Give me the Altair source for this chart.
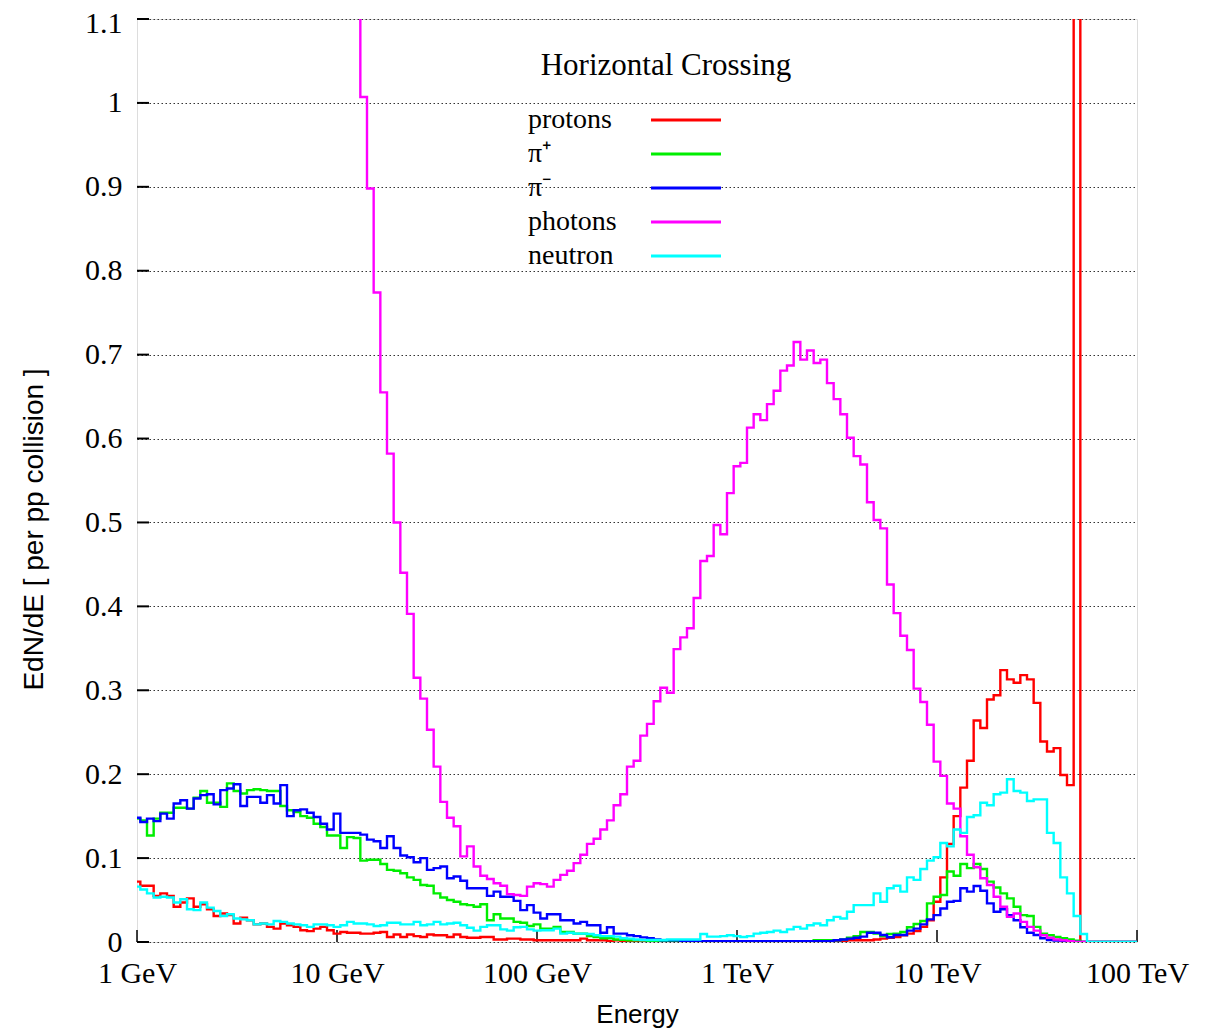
import json
import altair as alt
import pandas as pd

# ---------------- data ----------------
BINS_PER_DECADE = 30          # bin centres: E = 10**(k/30) GeV, k = 0..150
species = ["protons", "π⁺", "π⁻", "photons", "neutron"]
colors = ["#ff0000", "#00ee00", "#0000ff", "#ff00ff", "#00ffff"]
chart_title = "Horizontal Crossing"

protons = [
    0.072, 0.067, 0.067, 0.055, 0.058, 0.055, 0.042, 0.047, 0.052, 0.042,
    0.045, 0.039, 0.031, 0.034, 0.032, 0.022, 0.029, 0.026, 0.021, 0.022,
    0.018, 0.016, 0.022, 0.020, 0.018, 0.014, 0.013, 0.016, 0.018, 0.014,
    0.010, 0.012, 0.011, 0.011, 0.010, 0.010, 0.011, 0.012, 0.006, 0.009,
    0.006, 0.009, 0.007, 0.006, 0.009, 0.008, 0.008, 0.006, 0.009, 0.006,
    0.005, 0.005, 0.006, 0.006, 0.003, 0.003, 0.004, 0.004, 0.003, 0.003,
    0.002, 0.002, 0.002, 0.002, 0.002, 0.002, 0.002, 0.004, 0.002, 0.002,
    0.002, 0.001, 0.002, 0.001, 0.001, 0.001, 0.001, 0.001, 0.001, 0.001,
    0.001, 0.001, 0.001, 0.001, 0.001, 0.001, 0.001, 0.001, 0.001, 0.001,
    0.001, 0.001, 0.001, 0.001, 0.001, 0.001, 0.001, 0.001, 0.001, 0.001,
    0.001, 0.001, 0.001, 0.001, 0.001, 0.001, 0.001, 0.002, 0.002, 0.002,
    0.002, 0.003, 0.004, 0.005, 0.006, 0.008, 0.010, 0.013, 0.018, 0.026,
    0.048, 0.077, 0.117, 0.150, 0.184, 0.216, 0.264, 0.255, 0.289, 0.294,
    0.324, 0.313, 0.309, 0.318, 0.313, 0.285, 0.239, 0.227, 0.231, 0.199,
    0.187, 4.500, 0.0, 0.0, 0.0, 0.0, 0.0, 0.0, 0.0, 0.0,
    0.0,
]

pi_plus = [
    0.147, 0.145, 0.127, 0.147, 0.154, 0.154, 0.160, 0.160, 0.159, 0.172,
    0.180, 0.166, 0.166, 0.161, 0.189, 0.180, 0.177, 0.181, 0.182, 0.181,
    0.180, 0.180, 0.162, 0.157, 0.155, 0.150, 0.148, 0.141, 0.137, 0.127,
    0.127, 0.112, 0.125, 0.124, 0.097, 0.098, 0.098, 0.093, 0.086, 0.085,
    0.082, 0.077, 0.074, 0.068, 0.067, 0.058, 0.053, 0.050, 0.048, 0.045,
    0.044, 0.042, 0.045, 0.026, 0.033, 0.028, 0.028, 0.024, 0.023, 0.019,
    0.021, 0.016, 0.016, 0.018, 0.012, 0.012, 0.010, 0.010, 0.007, 0.006,
    0.0045, 0.0045, 0.003, 0.0025, 0.002, 0.002, 0.002, 0.001, 0.001, 0.001,
    0.001, 0.001, 0.001, 0.001, 0.001, 0.001, 0.001, 0.001, 0.001, 0.001,
    0.001, 0.001, 0.001, 0.001, 0.001, 0.001, 0.001, 0.001, 0.001, 0.001,
    0.001, 0.001, 0.002, 0.002, 0.002, 0.002, 0.003, 0.005, 0.007, 0.012,
    0.012, 0.010, 0.007, 0.0095, 0.010, 0.012, 0.0175, 0.0215, 0.025, 0.046,
    0.054, 0.056, 0.084, 0.079, 0.093, 0.088, 0.093, 0.087, 0.072, 0.065,
    0.058, 0.052, 0.042, 0.032, 0.031, 0.018, 0.010, 0.008, 0.006, 0.0044,
    0.003, 0.0016, 0.0, 0.0, 0.0, 0.0, 0.0, 0.0, 0.0, 0.0,
    0.0,
]

pi_minus = [
    0.148, 0.143, 0.147, 0.144, 0.153, 0.147, 0.165, 0.169, 0.159, 0.171,
    0.175, 0.176, 0.164, 0.181, 0.183, 0.188, 0.162, 0.173, 0.173, 0.166,
    0.175, 0.165, 0.187, 0.150, 0.157, 0.158, 0.154, 0.149, 0.141, 0.134,
    0.153, 0.130, 0.130, 0.130, 0.128, 0.122, 0.120, 0.112, 0.126, 0.112,
    0.103, 0.101, 0.095, 0.100, 0.086, 0.088, 0.090, 0.076, 0.078, 0.073,
    0.064, 0.064, 0.064, 0.055, 0.060, 0.054, 0.054, 0.049, 0.038, 0.044,
    0.035, 0.028, 0.033, 0.033, 0.026, 0.026, 0.022, 0.024, 0.020, 0.020,
    0.011, 0.0175, 0.010, 0.010, 0.008, 0.007, 0.0055, 0.0045, 0.003, 0.002,
    0.002, 0.002, 0.001, 0.001, 0.001, 0.001, 0.001, 0.001, 0.001, 0.001,
    0.001, 0.001, 0.001, 0.001, 0.001, 0.001, 0.001, 0.001, 0.001, 0.001,
    0.001, 0.001, 0.001, 0.001, 0.001, 0.002, 0.003, 0.004, 0.005, 0.0064,
    0.011, 0.011, 0.0083, 0.0056, 0.0083, 0.0083, 0.0135, 0.016, 0.021, 0.027,
    0.032, 0.040, 0.048, 0.049, 0.064, 0.060, 0.0667, 0.061, 0.046, 0.036,
    0.039, 0.032, 0.026, 0.0175, 0.011, 0.0083, 0.0044, 0.0024, 0.0016, 0.001,
    0.0, 0.0, 0.0, 0.0, 0.0, 0.0, 0.0, 0.0, 0.0, 0.0,
    0.0,
]

photons = [
    3.90, 3.75, 3.55, 3.30, 3.15, 2.95, 2.80, 2.70, 2.55, 2.45,
    2.35, 2.25, 2.20, 2.10, 2.00, 1.95, 1.90, 1.82, 1.78, 1.72,
    1.68, 1.62, 1.58, 1.52, 1.48, 1.44, 1.40, 1.36, 1.32, 1.28,
    1.24, 1.20, 1.16, 1.13, 1.007, 0.898, 0.774, 0.655, 0.582, 0.500,
    0.440, 0.391, 0.315, 0.290, 0.253, 0.209, 0.167, 0.148, 0.138, 0.102,
    0.114, 0.090, 0.079, 0.075, 0.070, 0.067, 0.057, 0.056, 0.055, 0.066,
    0.070, 0.069, 0.066, 0.074, 0.080, 0.085, 0.094, 0.104, 0.117, 0.123,
    0.134, 0.145, 0.163, 0.176, 0.209, 0.216, 0.246, 0.260, 0.287, 0.303,
    0.297, 0.349, 0.363, 0.374, 0.410, 0.454, 0.460, 0.497, 0.486, 0.535,
    0.567, 0.571, 0.613, 0.629, 0.622, 0.641, 0.657, 0.681, 0.687, 0.715,
    0.694, 0.705, 0.690, 0.694, 0.666, 0.647, 0.629, 0.601, 0.579, 0.569,
    0.524, 0.503, 0.493, 0.426, 0.392, 0.365, 0.348, 0.302, 0.286, 0.259,
    0.215, 0.198, 0.165, 0.159, 0.126, 0.104, 0.089, 0.076, 0.068, 0.054,
    0.042, 0.030, 0.034, 0.024, 0.018, 0.0135, 0.008, 0.005, 0.003, 0.002,
    0.001, 0.0, 0.0, 0.0, 0.0, 0.0, 0.0, 0.0, 0.0, 0.0,
    0.0,
]

neutron = [
    0.066, 0.0625, 0.058, 0.053, 0.054, 0.053, 0.047, 0.051, 0.039, 0.038,
    0.047, 0.041, 0.037, 0.031, 0.033, 0.028, 0.027, 0.026, 0.021, 0.022,
    0.021, 0.025, 0.024, 0.022, 0.021, 0.020, 0.018, 0.021, 0.021, 0.020,
    0.018, 0.020, 0.024, 0.022, 0.022, 0.021, 0.019, 0.020, 0.023, 0.023,
    0.021, 0.021, 0.024, 0.020, 0.021, 0.024, 0.021, 0.022, 0.023, 0.020,
    0.017, 0.0135, 0.018, 0.020, 0.020, 0.015, 0.0135, 0.0175, 0.018, 0.015,
    0.0135, 0.014, 0.014, 0.016, 0.010, 0.011, 0.010, 0.010, 0.0095, 0.008,
    0.007, 0.007, 0.0064, 0.0045, 0.004, 0.003, 0.0024, 0.0024, 0.0024, 0.0024,
    0.003, 0.003, 0.003, 0.003, 0.003, 0.0095, 0.0064, 0.0064, 0.007, 0.008,
    0.007, 0.006, 0.007, 0.010, 0.011, 0.012, 0.0135, 0.012, 0.015, 0.018,
    0.016, 0.020, 0.022, 0.020, 0.026, 0.030, 0.028, 0.036, 0.044, 0.044,
    0.044, 0.058, 0.048, 0.064, 0.067, 0.060, 0.077, 0.074, 0.087, 0.097,
    0.101, 0.118, 0.114, 0.134, 0.130, 0.149, 0.151, 0.166, 0.163, 0.176,
    0.178, 0.194, 0.180, 0.178, 0.168, 0.170, 0.170, 0.130, 0.118, 0.077,
    0.058, 0.031, 0.0095, 0.0, 0.0, 0.0, 0.0, 0.0, 0.0, 0.0,
    0.0,
]

series_values = [protons, pi_plus, pi_minus, photons, neutron]

x_tick_values = [1, 10, 100, 1000, 10000, 100000]
x_tick_labels = ["1 GeV", "10 GeV", "100 GeV", "1 TeV", "10 TeV", "100 TeV"]
y_tick_values = [0.0, 0.1, 0.2, 0.3, 0.4, 0.5, 0.6, 0.7, 0.8, 0.9, 1.0, 1.1]

# ---------------- table ----------------
rows = []
for name, vals in zip(species, series_values):
    for k, v in enumerate(vals):
        rows.append({"E": 10 ** (k / BINS_PER_DECADE), "v": v, "species": name})
df = pd.DataFrame(rows)

W, H = 1000, 923
label_map = {str(v): t for v, t in zip(x_tick_values, x_tick_labels)}
label_expr = json.dumps(label_map, ensure_ascii=False) + "[datum.value]"

x_scale = alt.Scale(type="log", domain=[1, 100000])
y_scale = alt.Scale(domain=[0, 1.1], nice=False, zero=True)

lines = alt.Chart(df).mark_line(interpolate="step", strokeWidth=2.4, clip=True).encode(
    x=alt.X(
        "E:Q", scale=x_scale,
        axis=alt.Axis(
            values=x_tick_values, labelExpr=label_expr, grid=False, ticks=False,
            domain=False, labelFont="Liberation Serif", labelFontSize=30,
            labelColor="black", labelPadding=16, labelFlush=False,
            title="Energy", titleFont="Liberation Sans", titleFontSize=26,
            titleFontWeight="normal", titleColor="black", titleY=80,
            titleBaseline="alphabetic",
        ),
    ),
    y=alt.Y(
        "v:Q", scale=y_scale,
        axis=alt.Axis(
            values=y_tick_values, format="~g", grid=True, gridDash=[1.5, 2.5],
            gridColor="#333333", gridWidth=1, ticks=False, domain=False,
            labelFont="Liberation Serif", labelFontSize=30, labelColor="black",
            labelPadding=15, labelFlush=False,
            labelOffset={"condition": {"test": "datum.value > 1.05", "value": 4},
                         "value": 0},
            title="EdN/dE  [  per pp collision ]", titleFont="Liberation Sans",
            titleFontSize=28, titleFontWeight="normal", titleColor="black",
            titleX=-103, titleY=510, titleAngle=270, titleBaseline="middle",
        ),
    ),
    color=alt.Color(
        "species:N",
        scale=alt.Scale(domain=species, range=colors),
        legend=alt.Legend(
            title=None, orient="none", legendX=391, legendY=87,
            symbolType="M-3,0H3", symbolSize=544, symbolStrokeWidth=3,
            symbolOffset=144, labelOffset={"expr": "-172"}, labelAlign="left",
            labelBaseline="middle", labelFont="Liberation Serif",
            labelFontSize=28, labelColor="black", labelLimit=0,
            rowPadding=6, padding=0,
        ),
    ),
)

y_ticks = alt.Chart(pd.DataFrame({"v": y_tick_values})).mark_rule(
    color="black", strokeWidth=2
).encode(y=alt.Y("v:Q", scale=y_scale), x=alt.value(0), x2=alt.value(12))

x_ticks = alt.Chart(pd.DataFrame({"E": x_tick_values})).mark_rule(
    color="black", strokeWidth=1.5
).encode(x=alt.X("E:Q", scale=x_scale), y=alt.value(H - 12), y2=alt.value(H))

title_text = alt.Chart(pd.DataFrame({"t": [chart_title]})).mark_text(
    font="Liberation Serif", fontSize=31, color="black",
    align="center", baseline="alphabetic",
).encode(text="t:N", x=alt.value(529), y=alt.value(56))

chart = alt.layer(y_ticks, x_ticks, lines, title_text).properties(
    width=W, height=H,
    autosize=alt.AutoSizeParams(type="none"),
    padding={"left": 129, "top": 11, "right": 69, "bottom": 86},
).configure_view(stroke="black", strokeWidth=2).configure(background="white")

chart.save("out.html", embed_options={"renderer": "svg", "actions": False})
